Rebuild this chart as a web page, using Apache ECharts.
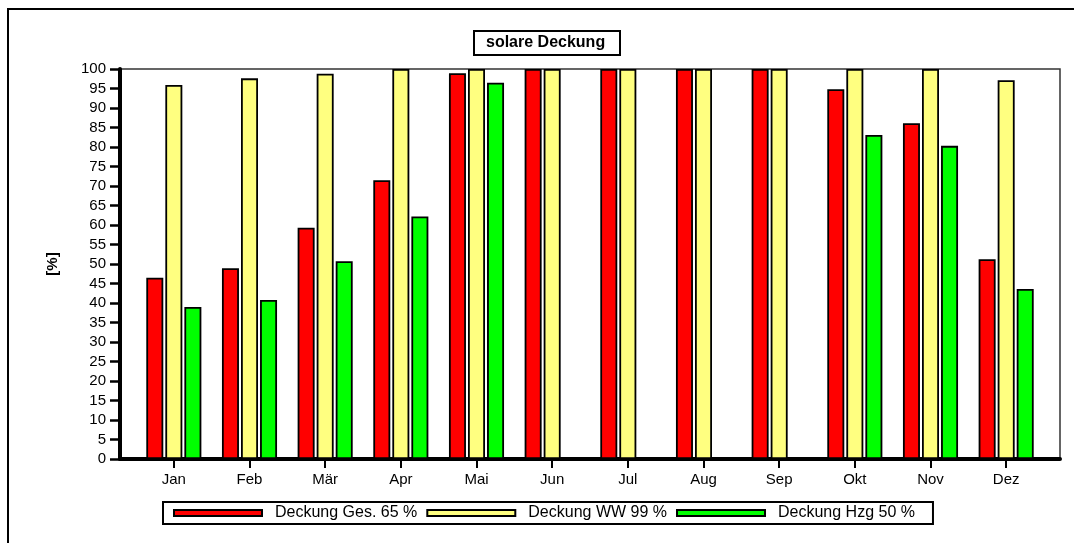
<!DOCTYPE html>
<html>
<head>
<meta charset="utf-8">
<script src="https://cdn.jsdelivr.net/npm/echarts@6/dist/echarts.min.js"></script>
<style>
html,body{margin:0;padding:0;background:#fff;}
#chart{width:1074px;height:543px;}
</style>
</head>
<body>
<div id="chart"></div>
<script>
var months = ['Jan','Feb','Mär','Apr','Mai','Jun','Jul','Aug','Sep','Okt','Nov','Dez'];
var deckungGes = [46.5, 48.9, 59.3, 71.5, 98.9, 100, 100, 100, 100, 94.8, 86.1, 51.2];
var deckungWW  = [95.9, 97.6, 98.8, 100, 100, 100, 100, 100, 100, 100, 100, 97.1];
var deckungHzg = [39.0, 40.8, 50.7, 62.2, 96.5, null, null, null, null, 83.1, 80.3, 43.6];
var seriesNames = ['Deckung Ges. 65 %', 'Deckung WW 99 %', 'Deckung Hzg 50 %'];
var seriesColors = ['#ff0000', '#ffff80', '#00ff00'];

var FONT = '"Liberation Sans", Arial, sans-serif';
var chart = echarts.init(document.getElementById('chart'), null, {renderer:'canvas'});

function barSeries(i, data){
  return {
    name: seriesNames[i], type: 'bar', xAxisIndex: 0, yAxisIndex: 0,
    data: data, barWidth: 17, barGap: '12%',
    itemStyle: {color: seriesColors[i], borderColor: '#000', borderWidth: 1.8},
    emphasis: {disabled: true}
  };
}

chart.setOption({
  animation: false,
  backgroundColor: '#fff',
  graphic: [{
    type: 'rect', z: -10,
    shape: {x: 8, y: 9, width: 1200, height: 700},
    style: {fill: 'none', stroke: '#000', lineWidth: 2}
  }],
  title: {
    text: 'solare Deckung', left: 474, top: 31,
    padding: [4, 15, 4, 12],
    borderColor: '#000', borderWidth: 2,
    textStyle: {fontFamily: FONT, fontSize: 16, fontWeight: 'bold', color: '#000'}
  },
  legend: {
    left: 163, top: 502,
    padding: [3, 18, 3, 10],
    borderColor: '#000', borderWidth: 2,
    itemWidth: 88, itemHeight: 6, itemGap: 9,
    icon: 'rect',
    data: seriesNames,
    textStyle: {fontFamily: FONT, fontSize: 16, color: '#000', padding: [0, 0, 0, 8]}
  },
  grid: [
    {left: 136, right: 30, top: 69, bottom: 84},
    {left: 120, right: 14, top: 69, bottom: 84, show: true, borderColor: '#333', borderWidth: 1.5, backgroundColor: 'transparent'}
  ],
  xAxis: [
    {
      type: 'category', gridIndex: 0, data: months,
      axisLine: {show: false},
      axisTick: {show: true, alignWithLabel: true, length: 9, lineStyle: {color: '#000', width: 2}},
      axisLabel: {fontFamily: FONT, fontSize: 15, color: '#000', margin: 13}
    },
    {
      type: 'value', gridIndex: 1, min: 0, max: 1,
      axisLine: {show: true, lineStyle: {color: '#000', width: 4}},
      axisTick: {show: false}, axisLabel: {show: false}, splitLine: {show: false}
    }
  ],
  yAxis: [
    {
      type: 'value', gridIndex: 0, min: 0, max: 100, interval: 5,
      show: false, splitLine: {show: false}
    },
    {
      type: 'value', gridIndex: 1, min: 0, max: 100, interval: 5,
      name: '[%]', nameLocation: 'middle', nameGap: 60,
      nameTextStyle: {fontFamily: FONT, fontSize: 15, fontWeight: 'bold', color: '#000'},
      axisLine: {show: true, lineStyle: {color: '#000', width: 4}},
      axisTick: {show: true, length: 10, lineStyle: {color: '#000', width: 2.5}},
      axisLabel: {fontFamily: FONT, fontSize: 15, color: '#000', margin: 14},
      splitLine: {show: false}
    }
  ],
  series: [
    barSeries(0, deckungGes),
    barSeries(1, deckungWW),
    barSeries(2, deckungHzg)
  ]
});
</script>
</body>
</html>
